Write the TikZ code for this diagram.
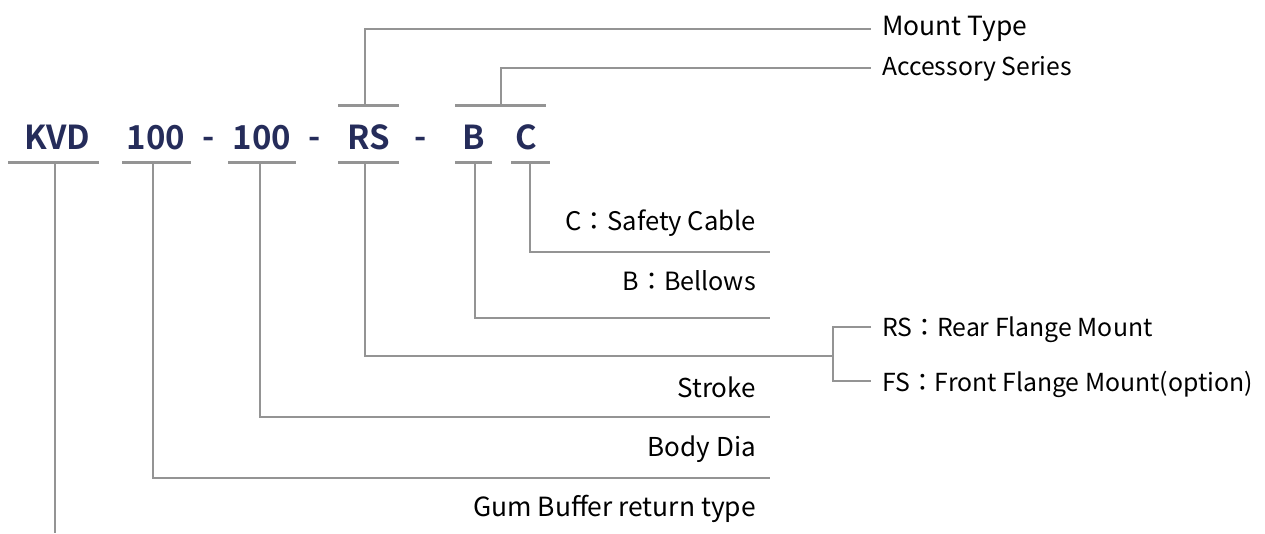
\documentclass[tikz,border=0pt]{standalone}
\usepackage{fontspec}
\newfontfamily\cjkr{Noto Sans CJK TC}
\newfontfamily\cjkb{Noto Sans CJK TC Bold}
\definecolor{navy}{HTML}{252C5A}
\definecolor{linegray}{HTML}{949494}
\newcommand\lfs[1]{\cjkr\fontsize{#1}{#1}\selectfont}
\begin{document}
\begin{tikzpicture}[x=1pt,y=-1pt,
  code/.style={anchor=base,inner sep=0pt,text=navy,font=\cjkb\fontsize{33}{36}\selectfont},
  lbl/.style={inner sep=0pt,text=black},
  lblr/.style={lbl,anchor=base east},
  lbll/.style={lbl,anchor=base west},
  tickbar/.style={draw=linegray,line width=3pt},
  conn/.style={draw=linegray,line width=2pt}]
\useasboundingbox (0,0) rectangle (1265,533);
% code letters
\node[code] (kvd) at (57,149) {KVD};
\node[code] (d1) at (156,149) {100};
\node[code] (h1) at (209,148) {-};
\node[code] (d2) at (262,149) {100};
\node[code] (h2) at (315,148) {-};
\node[code] (rs) at (368.5,149) {RS};
\node[code] (h3) at (421,148) {-};
\node[code] (b) at (474,149) {B};
\node[code] (c) at (526.5,149) {C};
% lower bars
\draw[tickbar] (8,162) -- (99,162);
\draw[tickbar] (122,162) -- (191,162);
\draw[tickbar] (228,162) -- (296,162);
\draw[tickbar] (338,162) -- (399,162);
\draw[tickbar] (455,162) -- (492,162);
\draw[tickbar] (511,162) -- (550,162);
% upper bars
\draw[tickbar] (338,105) -- (399,105);
\draw[tickbar] (455,105) -- (546,105);
% right labels
\node[lbll,font=\lfs{26.4}] (mt) at (882,35) {Mount Type};
\node[lbll,font=\lfs{24.7}] (as) at (882,75) {Accessory Series};
\node[lbll,font=\lfs{24.8}] (rsm) at (882,336.5) {RS：Rear Flange Mount};
\node[lbll,font=\lfs{24.8}] (fsm) at (882,391.5) {FS：Front Flange Mount(option)};
\node[lblr,font=\lfs{25.6}] (lc) at (756,230.7) {C：Safety Cable};
\node[lblr,font=\lfs{25.1}] (lb) at (756,290) {B：Bellows};
\node[lblr,font=\lfs{26}] (ls) at (756,397) {Stroke};
\node[lblr,font=\lfs{26}] (ld) at (756,456.7) {Body Dia};
\node[lblr,font=\lfs{26.4}] (lg) at (756,516.7) {Gum Buffer return type};
% connectors
\coordinate (rsu) at (365,105);
\coordinate (bcu) at (501,105);
\draw[conn] (rsu) -- (365,29) -- (871,29);
\draw[conn] (bcu) -- (501,68) -- (871,68);
\draw[conn] (530,162) -- (530,252) -- (770,252);
\draw[conn] (475,162) -- (475,318) -- (770,318);
\draw[conn] (365,162) -- (365,356) -- (833,356);
\draw[conn] (871,327) -- (833,327) -- (833,381) -- (871,381);
\draw[conn] (260,162) -- (260,417) -- (770,417);
\draw[conn] (153,162) -- (153,478) -- (770,478);
\draw[conn] (55,162) -- (55,533);
\end{tikzpicture}
\end{document}
